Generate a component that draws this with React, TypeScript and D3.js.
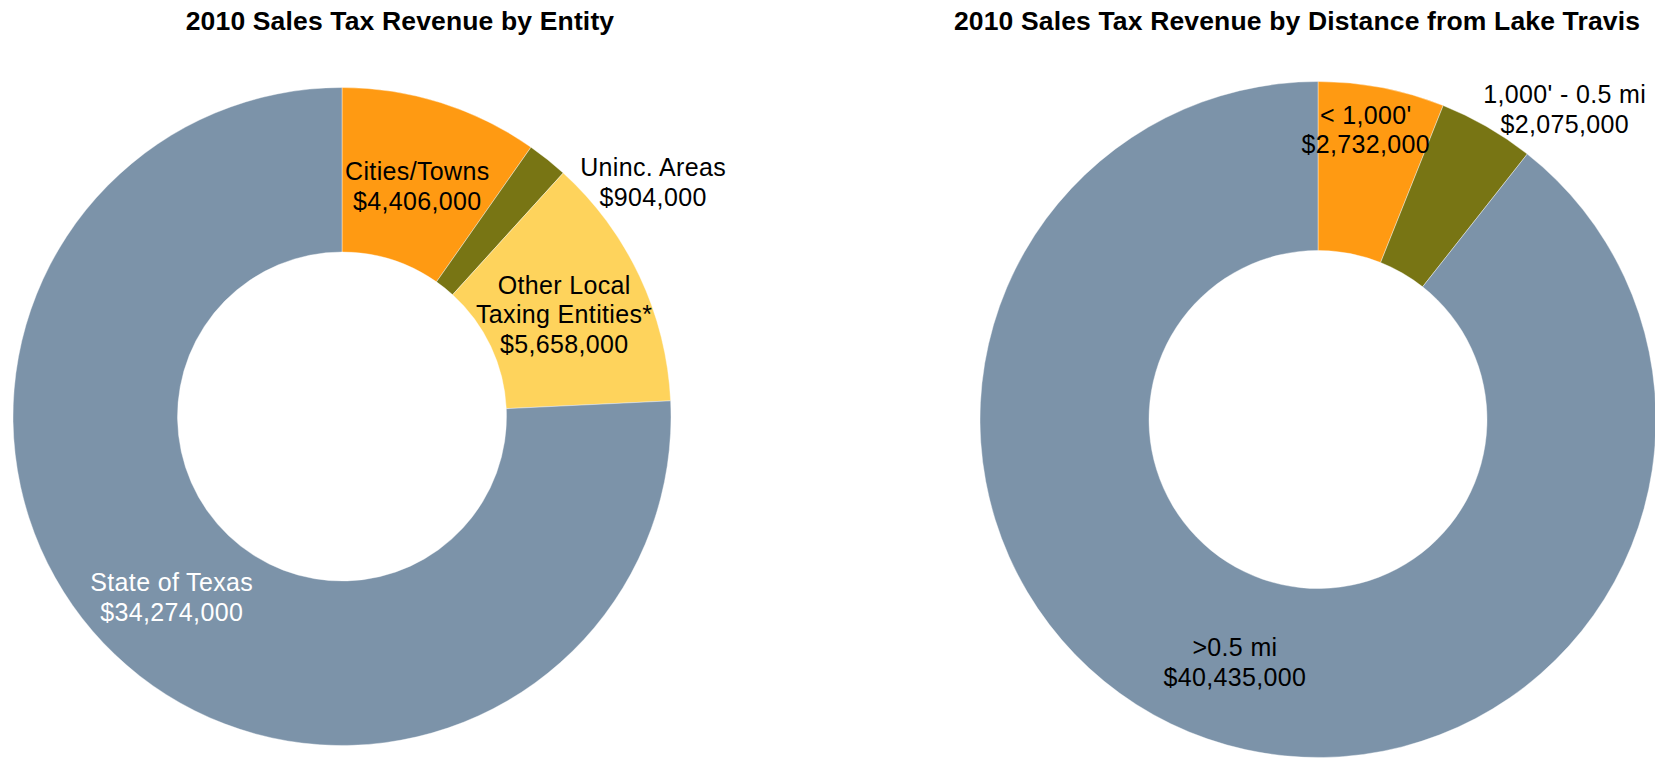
import React from "react";
import * as d3 from "d3";

// ---- Data ----
const entityTitle = "2010 Sales Tax Revenue by Entity";
const entityNames = ["Cities/Towns", "Uninc. Areas", "Other Local\nTaxing Entities*", "State of Texas"];
const entityValues = [4406000, 904000, 5658000, 34274000];

const distanceTitle = "2010 Sales Tax Revenue by Distance from Lake Travis";
const distanceNames = ["< 1,000'", "1,000' - 0.5 mi", ">0.5 mi"];
const distanceValues = [2732000, 2075000, 40435000];

// ---- Styles ----
const entityColors = ["#FF9A12", "#787514", "#FED35C", "#7C93A9"];
const entityTextColors = ["#000", "#000", "#000", "#fff"];
const entityLabelShift: [number, number][] = [[1, 5], [157, -42], [-1, 3], [0, 2]];

const distanceColors = ["#FF9A12", "#787514", "#7C93A9"];
const distanceTextColors = ["#000", "#000", "#000"];
const distanceLabelShift: [number, number][] = [[0, -41], [120, -91], [0, 3]];

const FONT = "'Liberation Sans', Arial, Helvetica, sans-serif";
const fmt = (v: number) => "$" + d3.format(",")(v);

type DonutProps = {
  title: string;
  names: string[];
  values: number[];
  colors: string[];
  textColors: string[];
  shifts: [number, number][];
  cx: number;
  cy: number;
  outer: number;
  titleX: number;
};

function Donut({ title, names, values, colors, textColors, shifts, cx, cy, outer, titleX }: DonutProps) {
  const pie = d3.pie<number>().sort(null).value((d) => d);
  const arcs = pie(values);
  const inner = outer * 0.5;
  const arc = d3.arc<d3.PieArcDatum<number>>().innerRadius(inner).outerRadius(outer);
  const lineH = 29.5;
  return (
    <g>
      <text x={titleX} y={29.5} textAnchor="middle" fontFamily={FONT} fontWeight="bold" fontSize={26.5} letterSpacing={0.15} fill="#000">
        {title}
      </text>
      <g transform={`translate(${cx},${cy})`}>
        {arcs.map((a, i) => (
          <path key={i} d={arc(a) || ""} fill={colors[i]} stroke="#ffffff" strokeWidth={0.4} />
        ))}
        {arcs.map((a, i) => {
          const [x, y] = arc.centroid(a);
          const lines = [...names[i].split("\n"), fmt(values[i])];
          const px = x + shifts[i][0];
          const py = y + shifts[i][1];
          const top = py - ((lines.length - 1) * lineH) / 2 + 9;
          return (
            <text key={"t" + i} textAnchor="middle" fontFamily={FONT} fontSize={25} letterSpacing={0.35} fill={textColors[i]}>
              {lines.map((l, j) => (
                <tspan key={j} x={px} y={top + j * lineH}>
                  {l}
                </tspan>
              ))}
            </text>
          );
        })}
      </g>
    </g>
  );
}

export default function App() {
  return (
    <svg width={1655} height={758} style={{ position: "absolute", left: 0, top: 0, background: "#fff" }}>
      <rect width={1655} height={758} fill="#fff" />
      <Donut
        title={entityTitle}
        names={entityNames}
        values={entityValues}
        colors={entityColors}
        textColors={entityTextColors}
        shifts={entityLabelShift}
        cx={342}
        cy={416.5}
        outer={329}
        titleX={400}
      />
      <Donut
        title={distanceTitle}
        names={distanceNames}
        values={distanceValues}
        colors={distanceColors}
        textColors={distanceTextColors}
        shifts={distanceLabelShift}
        cx={1318}
        cy={419.5}
        outer={338}
        titleX={1297}
      />
    </svg>
  );
}
